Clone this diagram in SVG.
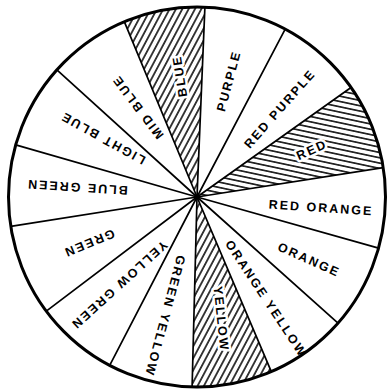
<svg xmlns="http://www.w3.org/2000/svg" width="387" height="391" viewBox="0 0 387 391">
<style>
.spoke{stroke:#000;stroke-width:1.7;fill:none;stroke-linecap:round}
.rim{stroke:#000;stroke-width:3;fill:none}
.lbl{font-family:"Liberation Sans",Arial,sans-serif;font-weight:bold;font-size:12.5px;letter-spacing:2px;fill:#000;text-anchor:middle;dominant-baseline:central}
.halo{stroke:#fff;stroke-width:5;paint-order:stroke;stroke-linejoin:round}
</style>
<defs>
<pattern id="hatchSteep" patternUnits="userSpaceOnUse" width="10" height="5.6" patternTransform="rotate(-62)">
<line x1="0" y1="2.8" x2="10" y2="2.8" stroke="#000" stroke-width="1.5"/>
</pattern>
<pattern id="hatchFlat" patternUnits="userSpaceOnUse" width="10" height="5.2" patternTransform="rotate(12)">
<line x1="0" y1="2.6" x2="10" y2="2.6" stroke="#000" stroke-width="1.5"/>
</pattern>
</defs>
<rect width="387" height="391" fill="#fff"/>
<g id="hatched-sectors">
<path id="sector-blue" d="M197,197 L124.3,21.7 A188.5,190 0 0 1 204.9,7.2 Z" fill="url(#hatchSteep)"/>
<path id="sector-red" d="M197,197 L351,87.5 A188.5,190 0 0 1 383.2,167.6 Z" fill="url(#hatchFlat)"/>
<path id="sector-yellow" d="M197,197 L271.3,371.6 A188.5,190 0 0 1 192.1,386.9 Z" fill="url(#hatchSteep)"/>
</g>
<g id="connectors">
<line class="spoke" x1="197" y1="197" x2="204.9" y2="7.2"/>
<line class="spoke" x1="197" y1="197" x2="285.2" y2="29.1"/>
<line class="spoke" x1="197" y1="197" x2="351" y2="87.5"/>
<line class="spoke" x1="197" y1="197" x2="383.2" y2="167.6"/>
<line class="spoke" x1="197" y1="197" x2="378.6" y2="248.1"/>
<line class="spoke" x1="197" y1="197" x2="338" y2="323.1"/>
<line class="spoke" x1="197" y1="197" x2="271.3" y2="371.6"/>
<line class="spoke" x1="197" y1="197" x2="192.1" y2="386.9"/>
<line class="spoke" x1="197" y1="197" x2="109.7" y2="365.4"/>
<line class="spoke" x1="197" y1="197" x2="46.3" y2="311.1"/>
<line class="spoke" x1="197" y1="197" x2="10.8" y2="226.4"/>
<line class="spoke" x1="197" y1="197" x2="15.7" y2="144.9"/>
<line class="spoke" x1="197" y1="197" x2="56.9" y2="69.9"/>
<line class="spoke" x1="197" y1="197" x2="124.3" y2="21.7"/>
<circle cx="197" cy="197" r="2.5" fill="#000"/>
</g>
<g id="rim"><ellipse class="rim" cx="197" cy="197" rx="188.5" ry="190"/></g>
<g id="node-purple"><text class="lbl" transform="translate(229,81) rotate(-75)">PURPLE</text></g>
<g id="node-red-purple"><text class="lbl" transform="translate(280,109) rotate(-48.5)">RED PURPLE</text></g>
<g id="node-red"><text class="lbl halo" transform="translate(312,150) rotate(-24)">RED</text></g>
<g id="node-red-orange"><text class="lbl" transform="translate(321,208) rotate(3.7)">RED  ORANGE</text></g>
<g id="node-orange"><text class="lbl" transform="translate(309,260) rotate(24)">ORANGE</text></g>
<g id="node-orange-yellow"><text class="lbl" transform="translate(266,299) rotate(56.5)">ORANGE YELLOW</text></g>
<g id="node-yellow"><text class="lbl halo" transform="translate(221,319) rotate(84)">YELLOW</text></g>
<g id="node-green-yellow"><text class="lbl" transform="translate(165,316) rotate(105)">GREEN YELLOW</text></g>
<g id="node-yellow-green"><text class="lbl" transform="translate(119,285) rotate(137.8)">YELLOW GREEN</text></g>
<g id="node-green"><text class="lbl" transform="translate(89,243) rotate(157.5)">GREEN</text></g>
<g id="node-blue-green"><text class="lbl" transform="translate(77,187) rotate(183.7)">BLUE GREEN</text></g>
<g id="node-light-blue"><text class="lbl" transform="translate(103,138) rotate(209)">LIGHT BLUE</text></g>
<g id="node-mid-blue"><text class="lbl" transform="translate(138,107) rotate(233)">MID BLUE</text></g>
<g id="node-blue"><text class="lbl halo" transform="translate(180,76) rotate(261)">BLUE</text></g>
</svg>
